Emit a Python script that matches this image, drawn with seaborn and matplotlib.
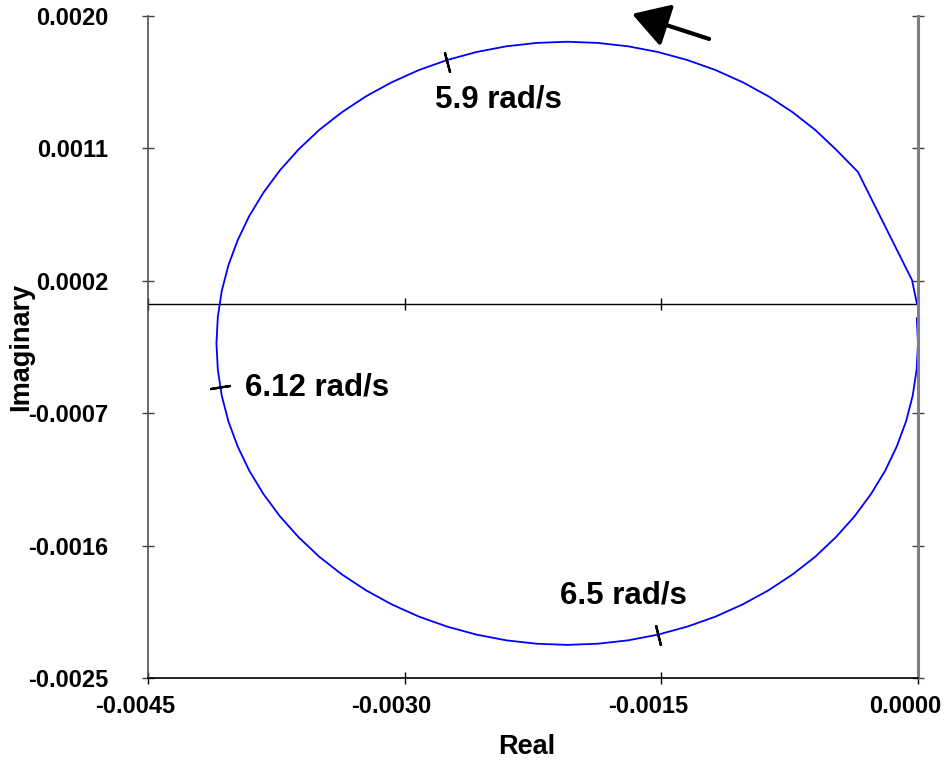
import numpy as np
import pandas as pd
import matplotlib
matplotlib.use("Agg")
import matplotlib.pyplot as plt
from matplotlib.transforms import ScaledTranslation
import seaborn as sns

# ── Data (real, imaginary), in drawing order ─────────────────────────────────
real = [-0.000006, -0.000035, -0.000351, -0.000480, -0.000600, -0.000732,
        -0.000874, -0.001025, -0.001184, -0.001349, -0.001519, -0.001694,
        -0.001871, -0.002050, -0.002229, -0.002406, -0.002581, -0.002751,
        -0.002916, -0.003075, -0.003226, -0.003368, -0.003500, -0.003620,
        -0.003729, -0.003825, -0.003908, -0.003976, -0.004030, -0.004069,
        -0.004092, -0.004100, -0.004092, -0.004069, -0.004030, -0.003976,
        -0.003908, -0.003825, -0.003729, -0.003620, -0.003500, -0.003368,
        -0.003226, -0.003075, -0.002916, -0.002751, -0.002581, -0.002406,
        -0.002229, -0.002050, -0.001871, -0.001694, -0.001519, -0.001349,
        -0.001184, -0.001025, -0.000874, -0.000732, -0.000600, -0.000480,
        -0.000371, -0.000275, -0.000192, -0.000124, -0.000070, -0.000031,
        -0.000008, 0.000000, -0.000007]
imag = [0.000042, 0.000205, 0.000940, 0.001093, 0.001225, 0.001345,
        0.001454, 0.001550, 0.001633, 0.001701, 0.001755, 0.001794,
        0.001817, 0.001825, 0.001817, 0.001794, 0.001755, 0.001701,
        0.001633, 0.001550, 0.001454, 0.001345, 0.001225, 0.001093,
        0.000951, 0.000800, 0.000641, 0.000476, 0.000306, 0.000131,
        -0.000046, -0.000225, -0.000404, -0.000581, -0.000756, -0.000926,
        -0.001091, -0.001250, -0.001401, -0.001543, -0.001675, -0.001795,
        -0.001904, -0.002000, -0.002083, -0.002151, -0.002205, -0.002244,
        -0.002267, -0.002275, -0.002267, -0.002244, -0.002205, -0.002151,
        -0.002083, -0.002000, -0.001904, -0.001795, -0.001675, -0.001543,
        -0.001401, -0.001250, -0.001091, -0.000926, -0.000756, -0.000581,
        -0.000404, -0.000225, -0.000053]

# frequency markers on the curve
freq_labels = ['5.9 rad/s', '6.12 rad/s', '6.5 rad/s']
freq_real   = [-0.00275, -0.00408, -0.00152]
freq_imag   = [0.00169, -0.000522, -0.002208]
freq_angle  = [15, -81, 14]          # tick orientation (deg from vertical)
label_real  = [-0.00245, -0.00351, -0.00172]
label_imag  = [0.00143, -0.000525, -0.00194]

# direction arrow (tail -> head)
arrow_tail = (-0.001221, 0.001844)
arrow_head = (-0.001671, 0.002014)

xticks = [-0.0045, -0.0030, -0.0015, 0.0000]
xtick_labels = ['-0.0045', '-0.0030', '-0.0015', '0.0000']
yticks = [-0.0025, -0.0016, -0.0007, 0.0002, 0.0011, 0.0020]
ytick_labels = ['-0.0025', '-0.0016', '-0.0007', '0.0002', '0.0011', '0.0020']
y_cross = 0.00004   # height of the horizontal real axis line

df = pd.DataFrame({'Real': real, 'Imaginary': imag})

# ── Style ────────────────────────────────────────────────────────────────────
sns.set_style('white', {'text.color': 'black', 'axes.labelcolor': 'black',
                        'xtick.color': 'black', 'ytick.color': 'black'})
plt.rcParams['font.family'] = ['Liberation Sans', 'DejaVu Sans']
plt.rcParams['font.weight'] = 'bold'

fig = plt.figure(figsize=(9.49, 7.62), dpi=100)
ax = fig.add_axes([148 / 949, 1 - 678 / 762, 770 / 949, 662 / 762])

sns.lineplot(data=df, x='Real', y='Imaginary', sort=False, estimator=None,
             color='#0000FF', linewidth=1.3, ax=ax, clip_on=False)

# horizontal axis through the plot with its tick marks
ax.axhline(y_cross, color='k', lw=1.0, zorder=1)
ax.plot(xticks, [y_cross] * len(xticks), ls='none', marker='|',
        ms=8, mew=1.0, color='k', clip_on=False)

# frequency tick marks + labels
for fr, fi, ang, lab, lr, li in zip(freq_real, freq_imag, freq_angle,
                                    freq_labels, label_real, label_imag):
    ax.plot([fr], [fi], ls='none', marker=(2, 2, ang), ms=15, mew=1.6,
            color='k')
    ax.text(lr, li, lab, fontsize=22.5, fontweight='bold', color='k',
            ha='center', va='center')

ax.annotate('', xy=arrow_head, xytext=arrow_tail, annotation_clip=False,
            arrowprops=dict(arrowstyle='-|>,head_length=0.4,head_width=0.24',
                            color='k', lw=3, mutation_scale=56,
                            shrinkA=0, shrinkB=0))

# ── Axes ─────────────────────────────────────────────────────────────────────
ax.set_xlim(-0.0045, 0.0)
ax.set_ylim(-0.0025, 0.0020)
ax.set_xticks(xticks, xtick_labels)
ax.set_yticks(yticks, ytick_labels)
ax.tick_params(axis='both', labelsize=17, direction='inout', length=9,
               width=1.0, labelcolor='k')
ax.tick_params(axis='x', pad=7.5, color='k', bottom=True)
ax.tick_params(axis='y', pad=24, left=True, right=True, color='#404040')
for lab in ax.get_xticklabels():
    lab.set_transform(lab.get_transform()
                      + ScaledTranslation(-0.13, 0, fig.dpi_scale_trans))

ax.spines['top'].set_visible(False)
ax.spines['left'].set_color('#505050')
ax.spines['left'].set_linewidth(1.2)
ax.spines['right'].set_color('#808080')
ax.spines['right'].set_linewidth(2.2)
ax.spines['bottom'].set_color('k')
ax.spines['bottom'].set_linewidth(1.2)

ax.set_xlabel('Real', fontsize=19.5, fontweight='bold')
ax.set_ylabel('Imaginary', fontsize=19.5, fontweight='bold')
ax.xaxis.set_label_coords(0.492, -0.085)
ax.yaxis.set_label_coords(-0.148, 0.5)

fig.savefig('out.png', dpi=100, facecolor='white')
